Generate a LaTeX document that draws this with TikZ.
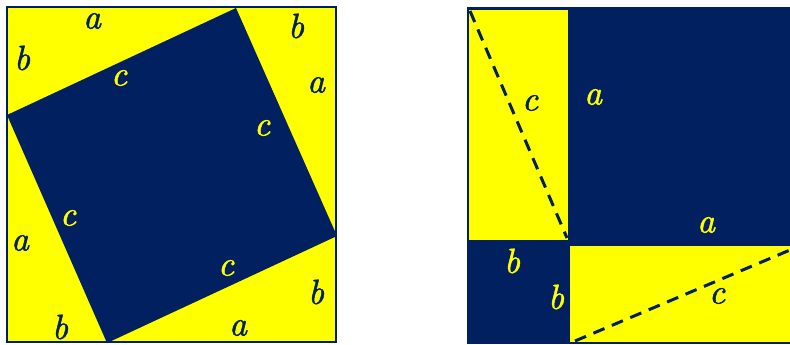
\documentclass[tikz,border=0pt]{standalone}
\font\labf="[lmroman10-italic.otf]:embolden=1.3" at 35pt
\definecolor{navy}{HTML}{002060}
\definecolor{yel}{HTML}{FFFF00}
\tikzset{
  lbl/.style={font=\labf, inner sep=0pt},
  dk/.style={lbl, text=navy},
  yl/.style={lbl, text=yel},
  cut/.style={navy, line width=3pt, dash pattern=on 12pt off 8pt}
}
\begin{document}
\begin{tikzpicture}[x=1pt,y=-1pt]
\useasboundingbox (0,0) rectangle (790,345);
% left figure
\coordinate (L1) at (7,7);
\coordinate (L2) at (336,342);
\fill[yel] (L1) rectangle (L2);
\coordinate (qt) at (236,8);
\coordinate (qr) at (337,236);
\coordinate (qb) at (107,343);
\coordinate (ql) at (7,115);
\fill[navy] (qt) -- (qr) -- (qb) -- (ql) -- cycle;
\draw[navy, line width=2.5pt] (L1) rectangle (L2);
\node[dk] (t1) at (92,21) {a};
\node[dk] (t2) at (22,58) {b};
\node[yl] (t3) at (119,78) {c};
\node[dk] (t4) at (296,26) {b};
\node[dk] (t5) at (316,85) {a};
\node[yl] (t6) at (262,128) {c};
\node[yl] (t7) at (68,218) {c};
\node[dk] (t8) at (20,243) {a};
\node[yl] (t9) at (226,268) {c};
\node[dk] (t10) at (316,292) {b};
\node[dk] (t11) at (60,327) {b};
\node[dk] (t12) at (238,328) {a};
% right figure
\fill[navy] (467,7) rectangle (790,344);
\fill[yel] (469,10) rectangle (568,240);
\fill[yel] (570,246) rectangle (790,342);
\coordinate (d1) at (470,11);
\coordinate (d2) at (567,238);
\coordinate (d3) at (575,341);
\coordinate (d4) at (790,250);
\draw[cut] (d1) -- (d2);
\draw[cut] (d3) -- (d4);
\node[dk] (r1) at (530,103) {c};
\node[yl] (r2) at (593,97) {a};
\node[yl] (r3) at (706,225) {a};
\node[yl] (r4) at (512,261) {b};
\node[yl] (r5) at (556,297) {b};
\node[dk] (r6) at (717,296) {c};
\end{tikzpicture}
\end{document}
